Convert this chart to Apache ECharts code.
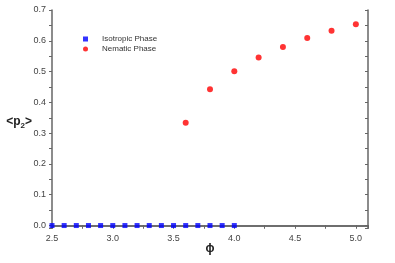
<!DOCTYPE html>
<html>
<head>
<meta charset="utf-8">
<script src="https://cdn.jsdelivr.net/npm/echarts@6/dist/echarts.min.js"></script>
<style>
  html, body { margin: 0; padding: 0; background: #fff; }
  #chart { width: 395px; height: 263px; }
</style>
</head>
<body>
<div id="chart"></div>
<script>
// isotropic phase: phi from 2.5 to 4.0, <p2> = 0
const isoPhi = [2.5, 2.6, 2.7, 2.8, 2.9, 3.0, 3.1, 3.2, 3.3, 3.4, 3.5, 3.6, 3.7, 3.8, 3.9, 4.0];
const isoP2 = [0, 0, 0, 0, 0, 0, 0, 0, 0, 0, 0, 0, 0, 0, 0, 0];
// nematic phase
const nemPhi = [3.6, 3.8, 4.0, 4.2, 4.4, 4.6, 4.8, 5.0];
const nemP2 = [0.334, 0.443, 0.501, 0.546, 0.580, 0.609, 0.633, 0.654];

const axisColor = "#666";
const labelColor = "#444";
const font = "Liberation Sans, Arial, sans-serif";

const chart = echarts.init(document.getElementById("chart"));

const xBase = {
  type: "value",
  min: 2.5,
  max: 5.1,
  interval: 0.5,
  splitLine: { show: false },
  axisLine: { lineStyle: { color: axisColor, width: 1.5 } },
  axisTick: { length: 3, lineStyle: { color: axisColor, width: 1 } },
  minorTick: { show: true, splitNumber: 2, length: 3, lineStyle: { color: axisColor, width: 1 } },
};

const yBase = {
  type: "value",
  min: -0.008,
  max: 0.7,
  splitNumber: 7,
  splitLine: { show: false },
  axisLine: { lineStyle: { color: axisColor, width: 1.5 } },
  axisTick: { length: 3, lineStyle: { color: axisColor, width: 1 } },
  minorTick: { show: true, splitNumber: 2, length: 3, lineStyle: { color: axisColor, width: 1 } },
};

const options = {
  animation: false,
  textStyle: { fontFamily: font },
  grid: { left: 52, right: 27, top: 10, bottom: 35, containLabel: false, outerBoundsMode: "none" },
  legend: {
    orient: "vertical",
    left: 78,
    top: 30,
    itemWidth: 5,
    itemHeight: 5,
    itemGap: 2,
    textStyle: { fontSize: 8, color: "#333", fontFamily: font, padding: [0, 0, 0, 9] },
    data: [
      { name: "Isotropic Phase", icon: "rect" },
      { name: "Nematic Phase", icon: "circle" },
    ],
  },
  xAxis: [
    {
      ...xBase,
      position: "bottom",
      name: "ϕ",
      nameLocation: "middle",
      nameGap: 15,
      nameMoveOverlap: false,
      nameTextStyle: { fontSize: 12, fontWeight: "bold", color: "#222" },
      axisLabel: { fontSize: 9, color: labelColor, margin: 6, showMaxLabel: false,
        formatter: (v) => v.toFixed(1) },
    },
    {
      ...xBase,
      position: "top",
      axisLabel: { show: false },
      axisTick: { ...xBase.axisTick, inside: true },
      minorTick: { ...xBase.minorTick },
    },
  ],
  yAxis: [
    {
      ...yBase,
      position: "left",
      name: "{a|<p}{s|2}{a|>}",
      nameLocation: "middle",
      nameGap: 20,
      nameMoveOverlap: false,
      nameRotate: 0,
      nameTextStyle: {
        padding: [6, 0, 0, 0],
        rich: {
          a: { fontSize: 12, fontWeight: "bold", color: "#222", fontFamily: font },
          s: { fontSize: 8, fontWeight: "bold", color: "#222", fontFamily: font, padding: [8, 0, 0, 0] },
        },
      },
      axisLabel: { fontSize: 9, color: labelColor, margin: 6, showMinLabel: false,
        formatter: (v) => v.toFixed(1) },
    },
    {
      ...yBase,
      position: "right",
      axisLabel: { show: false },
      axisTick: { ...yBase.axisTick, inside: true },
    },
  ],
  series: [
    {
      name: "Isotropic Phase",
      type: "scatter",
      symbol: "rect",
      symbolSize: 5,
      itemStyle: { color: "#0000ff" },
      data: isoPhi.map((x, i) => [x, isoP2[i]]),
    },
    {
      name: "Nematic Phase",
      type: "scatter",
      symbol: "circle",
      symbolSize: 6,
      itemStyle: { color: "#ff0000" },
      data: nemPhi.map((x, i) => [x, nemP2[i]]),
    },
  ],
};

chart.setOption(options);
</script>
</body>
</html>
